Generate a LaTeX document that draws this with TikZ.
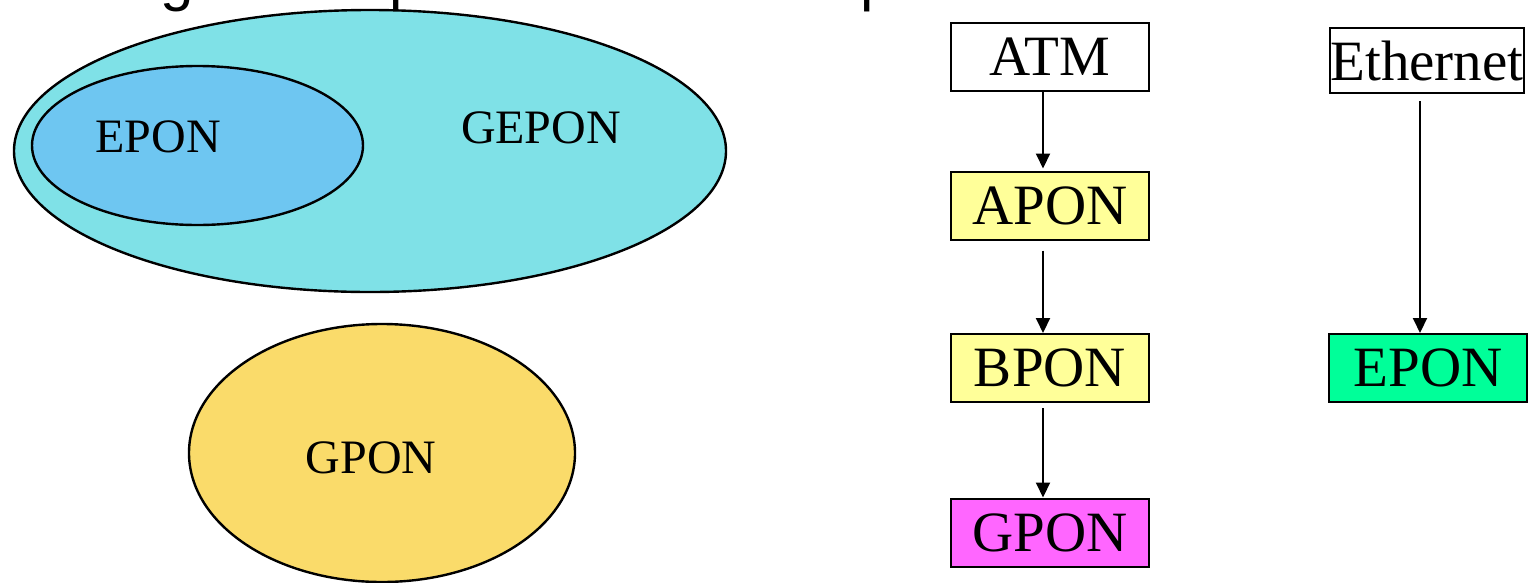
\documentclass[tikz,border=0pt]{standalone}
\usepackage{fontspec}
\setmainfont{Liberation Serif}
\newfontfamily\fragfont{Liberation Sans}
\usetikzlibrary{shapes.geometric,arrows.meta}
\definecolor{outercyan}{HTML}{7FE1E7}
\definecolor{innerblue}{HTML}{6EC6F1}
\definecolor{gponyellow}{HTML}{FADB6A}
\definecolor{lightyellow}{HTML}{FFFF99}
\definecolor{pink}{HTML}{FF66FF}
\definecolor{mint}{HTML}{00FF99}
\tikzset{
  blob/.style={ellipse, draw=black, line width=2.4pt, inner sep=0pt},
  blobtext/.style={font=\fontsize{48}{54}\selectfont, inner sep=0pt},
  techbox/.style={rectangle, draw=black, line width=2pt, minimum width=198pt, minimum height=68pt, inner sep=0pt, font=\fontsize{57}{64}\selectfont},
  arr/.style={draw=black, line width=2pt, -{Triangle[length=15pt,width=14pt]}},
  frag/.style={font=\fragfont\fontsize{60}{66}\selectfont, inner sep=0pt, anchor=base west}
}
\begin{document}
\begin{tikzpicture}[x=1pt,y=-1pt]
\useasboundingbox (0,0) rectangle (1534,582);
\clip (0,0) rectangle (1534,582);
% cut-off title fragments at the top edge
\node[frag] (f1) at (160,-1) {g};
\node[frag] (f2) at (389,-1) {p};
\node[frag] (f3) at (860,-1) {p};
% ellipses
\node[blob, fill=outercyan, minimum width=712pt, minimum height=282pt] (gepon) at (370,151) {};
\node[blob, fill=innerblue, minimum width=331pt, minimum height=159pt] (epon) at (197.5,145.5) {};
\node[blob, fill=gponyellow, minimum width=386pt, minimum height=258pt] (gpon) at (382,453) {};
\node[blobtext] (eponlbl) at (158,136.5) {EPON};
\node[blobtext] (geponlbl) at (541,128) {GEPON};
\node[blobtext] (gponlbl) at (371,457.5) {GPON};
% boxes
\node[techbox, fill=white] (atm) at (1050,57) {ATM};
\node[techbox, fill=lightyellow] (apon) at (1050,205.5) {APON};
\node[techbox, fill=lightyellow] (bpon) at (1050,368) {BPON};
\node[techbox, fill=pink] (gponb) at (1050,532.5) {GPON};
\node[techbox, fill=white, minimum width=194pt, minimum height=65pt] (eth) at (1427,60.5) {Ethernet};
\node[techbox, fill=mint] (eponb) at (1428,368) {EPON};
% connectors
\draw[arr] ([xshift=-7pt]atm.south) -- ([xshift=-7pt,yshift=2pt]apon.north);
\draw[arr, shorten <=10pt] ([xshift=-7pt]apon.south) -- ([xshift=-7pt]bpon.north);
\draw[arr, shorten <=5pt] ([xshift=-7pt]bpon.south) -- ([xshift=-7pt]gponb.north);
\draw[arr, shorten <=7pt] ([xshift=-7pt]eth.south) -- ([xshift=-8pt]eponb.north);
\end{tikzpicture}
\end{document}
